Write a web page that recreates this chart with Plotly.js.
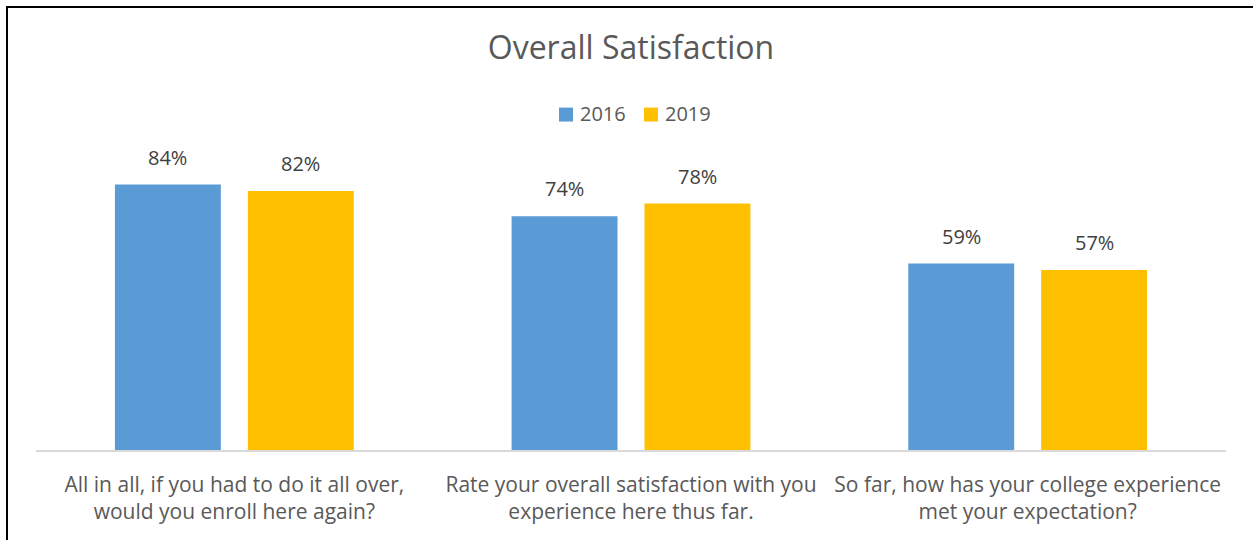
<!DOCTYPE html>
<html>
<head>
<meta charset="utf-8">
<script src="https://cdn.plot.ly/plotly-3.0.1.min.js"></script>
<style>
  html, body { margin: 0; padding: 0; background: #fff; }
  #chart { width: 1253px; height: 540px; }
</style>
</head>
<body>
<div id="chart"></div>
<script>
const categories = [
  "All in all, if you had to do it all over,<br>would you enroll here again?",
  "Rate your overall satisfaction with you<br>experience here thus far.",
  "So far, how has your college experience<br>met your expectation?"
];
const series2016 = [84, 74, 59];
const series2019 = [82, 78, 57];
const seriesNames = ["2016", "2019"];
const seriesColors = ["#5B9BD5", "#FFC000"];

const FONT = "Open Sans, Lato, sans-serif";
const traces = [series2016, series2019].map((vals, i) => ({
  type: "bar",
  name: seriesNames[i],
  x: categories,
  y: vals,
  marker: { color: seriesColors[i] },
  hoverinfo: "skip",
  showlegend: false
}));

const W = 1253, H = 540;
const L = 36, R = 27, T = 133.5, B = 89.5;
const pw = W - L - R, ph = H - T - B;
const px = v => (v - L) / pw;
const py = v => (H - B - v) / ph;

const annotations = [];
[series2016, series2019].forEach((vals, i) => {
  vals.forEach((v, j) => {
    annotations.push({
      x: categories[j], y: v, xref: "x", yref: "y",
      text: v + "%", showarrow: false,
      xshift: i === 0 ? -66.5 : 66.5,
      yanchor: "bottom", yshift: 12,
      font: { family: FONT, size: 20, color: "#404040" }
    });
  });
});

// legend (drawn manually to match the original's compact layout)
const legendX = [559, 644];
const shapes = [
  { type: "line", xref: "paper", yref: "paper", x0: px(7), x1: px(7), y0: py(5), y1: py(545), line: { color: "#000", width: 2 } },
  { type: "line", xref: "paper", yref: "paper", x0: px(6), x1: px(1260), y0: py(6), y1: py(6), line: { color: "#000", width: 2 } }
];
seriesNames.forEach((name, i) => {
  shapes.push({
    type: "rect", xref: "paper", yref: "paper",
    x0: px(legendX[i]), x1: px(legendX[i] + 14),
    y0: py(121), y1: py(107),
    fillcolor: seriesColors[i], line: { width: 0 }
  });
  annotations.push({
    xref: "paper", yref: "paper", x: px(legendX[i] + 19), y: py(113),
    xanchor: "left", yanchor: "middle", showarrow: false,
    text: name, font: { family: FONT, size: 20, color: "#595959" }
  });
});

const layout = {
  width: W, height: H,
  margin: { l: L, r: R, t: T, b: B, pad: 0 },
  paper_bgcolor: "#ffffff", plot_bgcolor: "#ffffff",
  font: { family: FONT, color: "#595959" },
  title: {
    text: "Overall Satisfaction",
    font: { family: FONT, size: 32, color: "#595959" },
    x: 0.5, xanchor: "center", xref: "paper",
    y: 1 - 48 / H, yanchor: "middle", yref: "container"
  },
  barmode: "group",
  bargap: 0.33,
  bargroupgap: 0.203,
  showlegend: false,
  xaxis: {
    showgrid: false, zeroline: false,
    showline: true, linecolor: "#d9d9d9", linewidth: 1.5,
    ticks: "", ticklabelstandoff: 15,
    tickfont: { family: FONT, size: 21, color: "#595959" },
    fixedrange: true
  },
  yaxis: {
    range: [0, 100], visible: false, showgrid: false, zeroline: false, fixedrange: true
  },
  annotations: annotations,
  shapes: shapes
};

Plotly.newPlot("chart", traces, layout, { displayModeBar: false, staticPlot: true });
</script>
</body>
</html>
